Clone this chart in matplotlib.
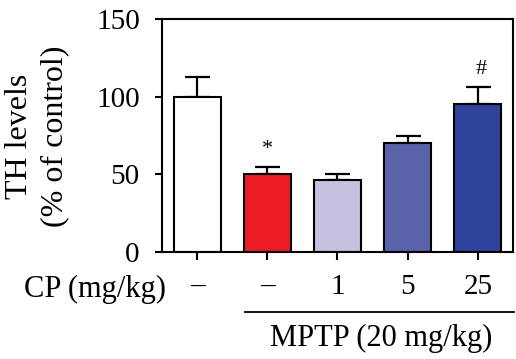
import matplotlib
matplotlib.use("Agg")
import matplotlib.pyplot as plt
import matplotlib.transforms as mtransforms
import numpy as np

# TH levels (% of control), mean and upper error
groups = ["–", "–", "1", "5", "25"]
means = [100, 50, 46.3, 70, 95.7]
errors = [13, 5, 3.8, 4.8, 10.8]
marks = ["", "*", "", "", "#"]
colors = ["#FFFFFF", "#ED1C24", "#C4C2E0", "#5A62AA", "#2E4399"]

plt.rcParams["font.family"] = ["Liberation Serif", "DejaVu Serif"]

fig = plt.figure(figsize=(5.16, 3.59), dpi=100)
ax = fig.add_axes([0.314, 0.298, 0.68, 0.648])

x = np.arange(len(groups))
ax.bar(x, means, width=0.67, color=colors, edgecolor="black", linewidth=1.5, zorder=2)
ax.errorbar(x, means, yerr=[np.zeros(len(errors)), errors], fmt="none",
            ecolor="black", elinewidth=1.6, capsize=9, capthick=1.6, zorder=1)

for xi, m, e, s in zip(x, means, errors, marks):
    if s:
        ax.text(xi + (0.05 if s == "#" else 0), m + e + 5, s, ha="center", va="bottom", fontsize=16)

ax.set_xlim(-0.5, 4.5)
ax.set_ylim(0, 150)
ax.set_yticks([0, 50, 100, 150])
ax.set_xticks(x)
ax.set_xticklabels(groups, fontsize=21)
ax.tick_params(axis="y", labelsize=21, width=1.5, length=5, pad=11)
ax.tick_params(axis="x", width=1.5, length=6, pad=10)
for sp in ax.spines.values():
    sp.set_linewidth(1.5)

fig.text(0.072, 0.62, "TH levels\n(% of control)", rotation=90, ha="center", va="center",
         fontsize=23, linespacing=1.3)

fig.text(0.322, 0.195, "CP (mg/kg)", ha="right", va="center", fontsize=22)

trans = mtransforms.blended_transform_factory(ax.transData, ax.transAxes)
ax.plot([0.68, 4.52], [-0.257, -0.257], color="black", lw=1.3, transform=trans, clip_on=False)
ax.text(2.63, -0.37, "MPTP (20 mg/kg)", ha="center", va="center", fontsize=22, transform=trans)

fig.savefig("out.png", dpi=100)
